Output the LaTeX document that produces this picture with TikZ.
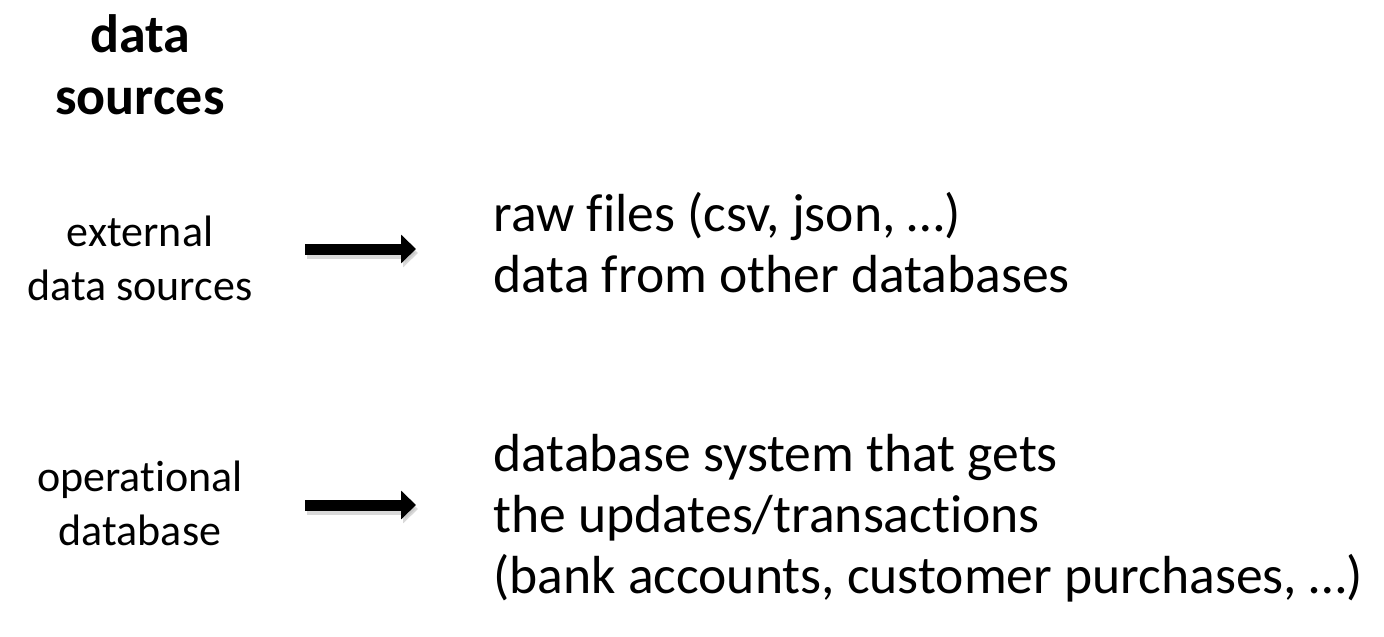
\documentclass[tikz,border=0pt]{standalone}
\usepackage{fontspec}
\setmainfont{Carlito}[Ligatures=NoCommon]
\usetikzlibrary{arrows.meta}
\definecolor{shadowgray}{rgb}{0.75, 0.75, 0.75}

\begin{document}
\begin{tikzpicture}[x=0.5pt,y=-0.5pt,
    title/.style={font=\fontsize{27}{31}\selectfont\bfseries,align=center},
    source/.style={font=\fontsize{22}{27}\selectfont,align=center},
    detail/.style={font=\fontsize{26.8}{30.5}\selectfont,align=left,anchor=west,inner sep=0pt},
    blockarrow/.style={line width=5.5pt,-{Triangle[length=7.5pt,width=14pt]}},
    arrowshadow/.style={blockarrow,shadowgray,opacity=0.6}]
    \useasboundingbox (0,0) rectangle (1384,636);
    % Title
    \node[title] (head) at (140,65) {data\\sources};
    % Sources
    \node[source] (ext) at (140,258) {external\\data sources};
    \node[source] (ops) at (140,503) {operational\\database};
    % Arrow ends
    \coordinate (ext-out) at (305,249);
    \coordinate (ext-in) at (416,249);
    \coordinate (ops-out) at (305,505);
    \coordinate (ops-in) at (416,505);
    % Details
    \node[detail] (extinfo) at (493,243) {raw files (csv, json, \dots)\\data from other databases};
    \node[detail] (opsinfo) at (493,518) {database system that gets\\the updates/transactions\\(bank accounts, customer purchases, \dots)};
    % Arrows
    \foreach \from/\to in {ext-out/ext-in,ops-out/ops-in} {
      \draw[arrowshadow] ([shift={(2,4)}]\from) -- ([shift={(2,4)}]\to);
      \draw[blockarrow] (\from) -- (\to);
    }
\end{tikzpicture}
\end{document}
